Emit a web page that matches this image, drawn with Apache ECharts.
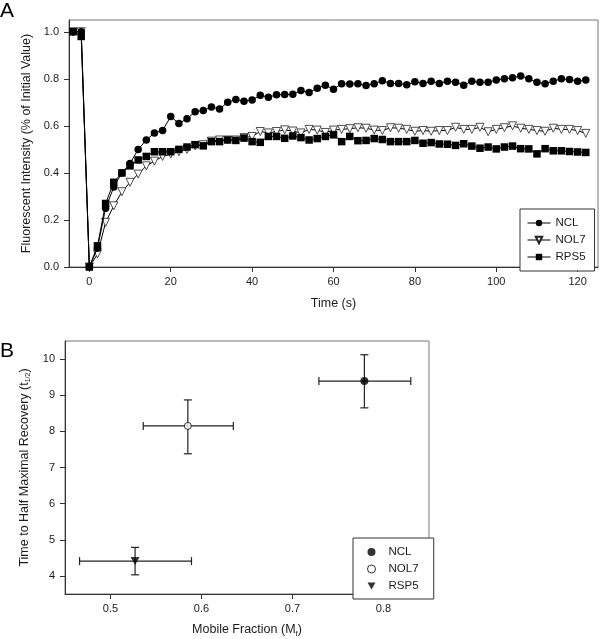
<!DOCTYPE html>
<html>
<head>
<meta charset="utf-8">
<script src="https://cdn.jsdelivr.net/npm/echarts@6/dist/echarts.min.js"></script>
<style>
html,body{margin:0;padding:0;background:#fff;}
#chart{width:600px;height:639px;}
</style>
</head>
<body>
<div id="chart"></div>
<script>
// ---------- Panel A data ----------
const timeSec = [-4,-2,0,2,4,6,8,10,12,14,16,18,20,22,24,26,28,30,32,34,36,38,40,42,44,46,48,50,52,54,56,58,60,62,64,66,68,70,72,74,76,78,80,82,84,86,88,90,92,94,96,98,100,102,104,106,108,110,112,114,116,118,120,122];
const nclIntensity = [1.0,1.0,0.0,0.08,0.25,0.34,0.40,0.44,0.50,0.54,0.57,0.58,0.64,0.61,0.63,0.66,0.665,0.68,0.672,0.70,0.712,0.705,0.71,0.73,0.722,0.732,0.733,0.734,0.75,0.742,0.76,0.773,0.756,0.779,0.778,0.779,0.772,0.779,0.792,0.78,0.78,0.775,0.787,0.78,0.79,0.78,0.79,0.785,0.773,0.79,0.785,0.785,0.795,0.80,0.804,0.812,0.80,0.785,0.779,0.79,0.80,0.797,0.79,0.795];
const nol7Intensity = [1.0,1.0,0.0,0.055,0.19,0.26,0.32,0.36,0.395,0.43,0.45,0.47,0.48,0.49,0.50,0.515,0.52,0.535,0.54,0.54,0.54,0.55,0.555,0.576,0.57,0.576,0.583,0.578,0.57,0.585,0.582,0.572,0.582,0.585,0.588,0.592,0.59,0.582,0.58,0.592,0.59,0.585,0.577,0.58,0.577,0.58,0.58,0.594,0.585,0.585,0.594,0.575,0.585,0.592,0.60,0.59,0.585,0.58,0.577,0.59,0.585,0.585,0.58,0.568];
const rps5Intensity = [1.0,0.98,0.0,0.09,0.27,0.36,0.40,0.43,0.455,0.47,0.49,0.49,0.49,0.50,0.51,0.52,0.515,0.533,0.533,0.54,0.538,0.548,0.533,0.53,0.555,0.555,0.547,0.557,0.55,0.54,0.546,0.555,0.562,0.533,0.555,0.537,0.538,0.546,0.542,0.533,0.533,0.533,0.538,0.526,0.529,0.523,0.522,0.517,0.524,0.514,0.505,0.51,0.502,0.51,0.514,0.503,0.502,0.481,0.503,0.494,0.494,0.491,0.489,0.487];
const timeTicks = [0,20,40,60,80,100,120];
const intensityTicks = [0.0,0.2,0.4,0.6,0.8,1.0];

// ---------- Panel B data ----------
const proteinNames = ['NCL','NOL7','RSP5'];
const mobileFraction = [0.779,0.585,0.527];
const mobileErrLow = [0.050,0.049,0.061];
const mobileErrHigh = [0.051,0.050,0.062];
const halfTime = [9.39,8.15,4.41];
const halfTimeErrLow = [0.74,0.77,0.38];
const halfTimeErrHigh = [0.73,0.72,0.38];
const fractionTicks = [0.5,0.6,0.7,0.8];
const halfTimeTicks = [4,5,6,7,8,9,10];

const FONT = '"Liberation Sans", Arial, sans-serif';
const TXT = '#1a1a1a';
const DOWN_TRI = 'path://M0,0 L10,0 L5,9 Z';

function pairs(xs, ys){ return xs.map((x,i)=>[x, ys[i]]); }

const axisCommon = {
  axisLine:{show:true, onZero:false, lineStyle:{color:'#333', width:1}},
  axisTick:{show:true, inside:false, length:5, lineStyle:{color:'#333'}},
  splitLine:{show:false},
  nameTextStyle:{fontFamily:FONT, fontSize:12.5, color:TXT},
};

const chart = echarts.init(document.getElementById('chart'), null, {renderer:'canvas'});

const lineStyleA = {color:'#000', width:1};

chart.setOption({
  animation:false,
  backgroundColor:'#fff',
  textStyle:{fontFamily:FONT},
  graphic:[
    {type:'text', left:0, top:1, style:{text:'A', font:'21px '+FONT, fill:'#000'}},
    {type:'text', left:0, top:341, style:{text:'B', font:'21px '+FONT, fill:'#000'}}
  ],
  grid:[
    {left:69, top:20, width:529, height:247, show:true, borderColor:'#777', borderWidth:1, backgroundColor:'transparent'},
    {left:65, top:341, width:364, height:254, show:true, borderColor:'#777', borderWidth:1, backgroundColor:'transparent'}
  ],
  legend:[
    {
      data:['NCL','NOL7','RPS5'],
      left:520, top:209, orient:'vertical',
      itemWidth:23, itemHeight:8, itemGap:5,
      padding:[8,9,8,7],
      borderColor:'#333', borderWidth:1, borderRadius:0,
      backgroundColor:'#fff',
      lineStyle:{width:1, color:'#000'},
      textStyle:{fontFamily:FONT, fontSize:11.5, color:TXT},
      symbolRotate:'inherit'
    },
    {
      data:[
        {name:'NCL ', icon:'circle', itemStyle:{color:'#000', borderWidth:0}},
        {name:'NOL7 ', icon:'circle', itemStyle:{color:'#fff', borderColor:'#000', borderWidth:1}},
        {name:'RSP5 ', icon:DOWN_TRI, itemStyle:{color:'#000', borderWidth:0}}
      ],
      left:353, top:538, orient:'vertical',
      itemWidth:8, itemHeight:8, itemGap:5,
      padding:[8,12,7,14],
      borderColor:'#333', borderWidth:1, borderRadius:0,
      backgroundColor:'#fff',
      textStyle:{fontFamily:FONT, fontSize:11.5, color:TXT, padding:[0,0,0,8]}
    }
  ],
  xAxis:[
    Object.assign({}, axisCommon, {
      gridIndex:0, type:'value', min:-5, max:125,
      name:'Time (s)', nameLocation:'middle', nameGap:30,
      axisTick:Object.assign({}, axisCommon.axisTick, {customValues:timeTicks}),
      axisLabel:{customValues:timeTicks, margin:9, fontFamily:FONT, fontSize:11, color:TXT}
    }),
    Object.assign({}, axisCommon, {
      gridIndex:1, type:'value', min:0.45, max:0.85,
      name:'Mobile Fraction (M{sub|f})', nameLocation:'middle', nameGap:28,
      nameTextStyle:{fontFamily:FONT, fontSize:12.5, color:TXT, rich:{sub:{fontSize:8, verticalAlign:'bottom', padding:[8,0,0,0], fontFamily:FONT, color:TXT}}},
      axisTick:Object.assign({}, axisCommon.axisTick, {customValues:fractionTicks}),
      axisLabel:{customValues:fractionTicks, margin:9, fontFamily:FONT, fontSize:11, color:TXT, formatter:v=>v.toFixed(1)}
    })
  ],
  yAxis:[
    Object.assign({}, axisCommon, {
      gridIndex:0, type:'value', min:0, max:1.05,
      name:'Fluorescent Intensity (% of Initial Value)', nameLocation:'middle', nameGap:31,
      axisTick:Object.assign({}, axisCommon.axisTick, {customValues:intensityTicks}),
      axisLabel:{customValues:intensityTicks, margin:10, fontFamily:FONT, fontSize:11, color:TXT, formatter:v=>v.toFixed(1)}
    }),
    Object.assign({}, axisCommon, {
      gridIndex:1, type:'value', min:3.5, max:10.5,
      name:'Time to Half Maximal Recovery (t{sub|1/2})', nameLocation:'middle', nameGap:24,
      nameTextStyle:{fontFamily:FONT, fontSize:12.5, color:TXT, rich:{sub:{fontSize:7, verticalAlign:'bottom', padding:[8,0,0,0], fontFamily:FONT, color:TXT}}},
      axisTick:Object.assign({}, axisCommon.axisTick, {customValues:halfTimeTicks}),
      axisLabel:{customValues:halfTimeTicks, margin:10, fontFamily:FONT, fontSize:11, color:TXT}
    })
  ],
  series:[
    {
      name:'NOL7', type:'line', xAxisIndex:0, yAxisIndex:0,
      data:pairs(timeSec, nol7Intensity),
      symbol:'triangle', symbolRotate:180, symbolSize:8, showAllSymbol:true,
      lineStyle:lineStyleA, itemStyle:{color:'#fff', borderColor:'#222', borderWidth:0.8},
      z:2
    },
    {
      name:'RPS5', type:'line', xAxisIndex:0, yAxisIndex:0,
      data:pairs(timeSec, rps5Intensity),
      symbol:'rect', symbolSize:7.5, showAllSymbol:true,
      lineStyle:lineStyleA, itemStyle:{color:'#000', borderWidth:0},
      z:3
    },
    {
      name:'NCL', type:'line', xAxisIndex:0, yAxisIndex:0,
      data:pairs(timeSec, nclIntensity),
      symbol:'circle', symbolSize:7.5, showAllSymbol:true,
      lineStyle:lineStyleA, itemStyle:{color:'#000', borderWidth:0},
      z:4
    },
    {
      name:'errorbars', type:'custom', xAxisIndex:1, yAxisIndex:1,
      data:mobileFraction.map((m,i)=>[m, halfTime[i], mobileErrLow[i], mobileErrHigh[i], halfTimeErrLow[i], halfTimeErrHigh[i]]),
      encode:{x:0, y:1},
      silent:true, z:1,
      renderItem:function(params, api){
        const x=api.value(0), y=api.value(1);
        const xl=api.coord([x-api.value(2), y]), xh=api.coord([x+api.value(3), y]);
        const yl=api.coord([x, y-api.value(4)]), yh=api.coord([x, y+api.value(5)]);
        const cap=4;
        const st={stroke:'#222', lineWidth:1.2};
        const L=(x1,y1,x2,y2)=>({type:'line', shape:{x1,y1,x2,y2}, style:st});
        return {type:'group', children:[
          L(xl[0],xl[1],xh[0],xh[1]),
          L(yl[0],yl[1],yh[0],yh[1]),
          L(xl[0],xl[1]-cap,xl[0],xl[1]+cap),
          L(xh[0],xh[1]-cap,xh[0],xh[1]+cap),
          L(yl[0]-cap,yl[1],yl[0]+cap,yl[1]),
          L(yh[0]-cap,yh[1],yh[0]+cap,yh[1])
        ]};
      }
    },
    {
      name:'NCL ', type:'scatter', xAxisIndex:1, yAxisIndex:1,
      data:[[mobileFraction[0], halfTime[0]]],
      symbol:'circle', symbolSize:8, itemStyle:{color:'#000'}, z:5
    },
    {
      name:'NOL7 ', type:'scatter', xAxisIndex:1, yAxisIndex:1,
      data:[[mobileFraction[1], halfTime[1]]],
      symbol:'circle', symbolSize:7, itemStyle:{color:'#fff', borderColor:'#000', borderWidth:1}, z:5
    },
    {
      name:'RSP5 ', type:'scatter', xAxisIndex:1, yAxisIndex:1,
      data:[[mobileFraction[2], halfTime[2]]],
      symbol:DOWN_TRI, symbolSize:[9,8], itemStyle:{color:'#000'}, z:5
    }
  ]
});
</script>
</body>
</html>
